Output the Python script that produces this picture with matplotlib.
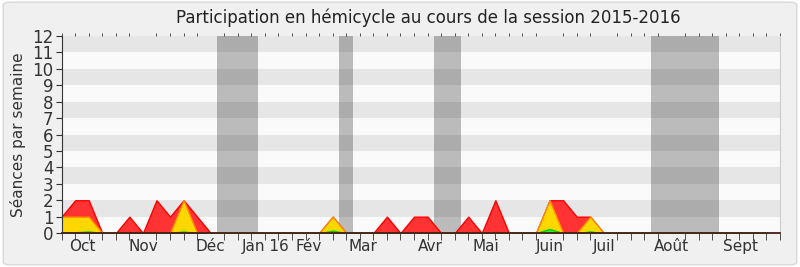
import matplotlib
matplotlib.use("Agg")
import matplotlib.pyplot as plt
from matplotlib.patches import FancyBboxPatch
import numpy as np

weeks = np.arange(53)
presences = [1, 2, 2, 0, 0, 1, 0, 2, 1, 2, 1, 0, 0, 0, 0, 0, 0, 0, 0, 0,
             1, 0, 0, 0, 1, 0, 1, 1, 0, 0, 1, 0, 2, 0, 0, 0, 2, 2, 1, 1,
             0, 0, 0, 0, 0, 0, 0, 0, 0, 0, 0, 0, 0]
commissions = [1, 1, 1, 0, 0, 0, 0, 0, 0, 2, 0, 0, 0, 0, 0, 0, 0, 0, 0, 0,
               1, 0, 0, 0, 0, 0, 0, 0, 0, 0, 0, 0, 0, 0, 0, 0, 2, 0, 0, 1,
               0, 0, 0, 0, 0, 0, 0, 0, 0, 0, 0, 0, 0]
interventions = [0.05, 0.05, 0.1, 0, 0, 0, 0, 0, 0, 0.1, 0, 0, 0, 0, 0, 0, 0, 0, 0, 0,
                 0.15, 0, 0, 0, 0, 0, 0, 0, 0, 0, 0, 0, 0, 0, 0, 0, 0.25, 0, 0, 0.1,
                 0, 0, 0, 0, 0, 0, 0, 0, 0, 0, 0, 0, 0]
vacances = [(11.5, 14.5), (20.5, 21.5), (27.5, 29.5), (43.5, 48.5)]
month_labels = ["Oct", "Nov", "Déc", "Jan 16", "Fév", "Mar", "Avr", "Mai",
                "Juin", "Juil", "Août", "Sept"]
month_pos = [1.55, 6.0, 11.0, 15.05, 18.2, 22.2, 27.2, 31.3, 36.0, 40.0, 45.0, 50.1]

fig = plt.figure(figsize=(8, 2.67), dpi=100, facecolor="white")
bg = FancyBboxPatch((0.004, 0.008), 0.992, 0.984, boxstyle="round,pad=0,rounding_size=0.01",
                    transform=fig.transFigure, facecolor="#f0f0f0", edgecolor="#d8d8d8",
                    linewidth=1, zorder=-10)
fig.patches.append(bg)

ax = fig.add_axes([0.077, 0.127, 0.898, 0.738])
ax.set_facecolor("#fafafa")
ax.set_xlim(0, 53)
ax.set_ylim(0, 12)

for y in range(1, 12, 2):
    ax.axhspan(y, y + 1, color="#e6e6e6", zorder=0, linewidth=0)

for a, b in vacances:
    ax.axvspan(a, b, color="black", alpha=0.25, linewidth=0, zorder=1)

ax.fill_between(weeks, presences, color="#ff3333", edgecolor="#ff0000", linewidth=1, zorder=2)
ax.fill_between(weeks, commissions, color="#ffd700", edgecolor="#ff8c00", linewidth=1, zorder=3)
ax.fill_between(weeks, interventions, color="#33ee33", edgecolor="#00cc00", linewidth=1, zorder=4)

ax.set_yticks(range(0, 13))
ax.tick_params(axis="y", labelsize=12, colors="#333333", length=4, direction="out", pad=2)
ax.set_xticks(month_pos)
ax.set_xticklabels(month_labels)
ax.tick_params(axis="x", which="major", length=0, labelsize=11, colors="#333333", pad=4)
ax.set_xticks(np.arange(0, 54), minor=True)
ax.tick_params(axis="x", which="minor", length=5, direction="out", color="#333333",
               top=True, bottom=True)

for t in ax.xaxis.get_minor_ticks():
    t.tick2line.set_markersize(2)
    t.tick2line.set_markeredgecolor("#333333")

ax.spines["top"].set_visible(False)
ax.spines["right"].set_color("#cccccc")
ax.spines["left"].set_color("#333333")
ax.spines["bottom"].set_color("#4a1a1a")
ax.spines["bottom"].set_linewidth(1.3)
for s in ax.spines.values():
    s.set_zorder(10)

ax.set_ylabel("Séances par semaine", fontsize=11, color="#333333", labelpad=4)
fig.text(0.535, 0.935, "Participation en hémicycle au cours de la session 2015-2016",
         fontsize=12, color="#222222", ha="center", va="center")

fig.savefig("out.png", dpi=100, facecolor=fig.get_facecolor())
